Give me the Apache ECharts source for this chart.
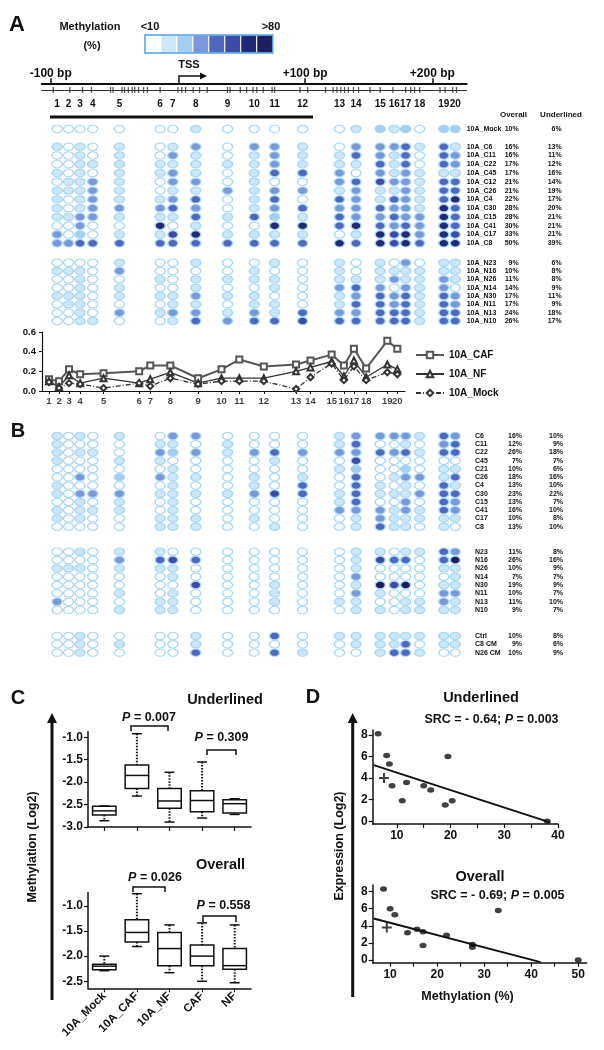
<!DOCTYPE html>
<html>
<head>
<meta charset="utf-8">
<title>Methylation figure</title>
<script src="https://cdn.jsdelivr.net/npm/echarts@6/dist/echarts.min.js"></script>
<style>
html, body { margin: 0; padding: 0; background: #fff; }
#chart { width: 604px; height: 1050px; }
</style>
</head>
<body>
<div id="chart"></div>
<script>
// fonts
var SANS = '"Liberation Sans", Arial, sans-serif';
var NARROW = '"Liberation Sans Narrow", "Liberation Sans", Arial, sans-serif';

// ---- data ----
// CpG columns 1..20, position relative to TSS (bp)
var colBp = [-95, -86, -77, -67, -46, -14, -4, 14, 39, 60, 76, 98, 127, 140, 159, 170, 179, 190, 209, 218];
var cpgSitesBp = [-98, -85, -75, -68, -53, -51, -44, -42, -39, -36, -34, -31, -27, -24, -14, 0, 3, 6, 12, 17, 23,
  39, 41, 49, 54, 59, 62, 67, 74, 76, 96, 102, 116, 122, 125, 128, 131, 134, 138, 142, 151, 159, 169, 179, 183,
  186, 190, 206, 210, 216, 219];
var genomeTicksBp = [-100, 100, 200];

// methylation level per CpG (0 = <10% ... 7 = >80%), one string per clone
var aMockNames = ['10A_Mock'];
var aMockOverall = ['10%'];
var aMockUnder = ['6%'];
var aMockRows = ['00000001000001212022'];

var aCafNames = ['10A_C6', '10A_C11', '10A_C22', '10A_C45', '10A_C12', '10A_C26', '10A_C4', '10A_C30', '10A_C15', '10A_C41', '10A_C17', '10A_C8'];
var aCafOverall = ['16%', '16%', '17%', '17%', '21%', '21%', '22%', '28%', '28%', '30%', '33%', '50%'];
var aCafUnder = ['13%', '11%', '12%', '16%', '14%', '19%', '17%', '20%', '21%', '21%', '21%', '39%'];
var aCafRows = [
  '10101013033103334141', '00101031013114314043', '00111111113111414043', '10101131014430313111',
  '01131033010034533144', '11131011313313113144', '10131134014043143146', '10133343013433433164',
  '11331114142143343364', '00300601006646434364', '30201156111101656365', '33444444444464656466'
];

var aNfNames = ['10A_N23', '10A_N16', '10A_N26', '10A_N14', '10A_N30', '10A_N11', '10A_N13', '10A_N10'];
var aNfOverall = ['9%', '10%', '11%', '14%', '17%', '17%', '24%', '26%'];
var aNfUnder = ['6%', '8%', '8%', '9%', '11%', '9%', '18%', '17%'];
var aNfRows = [
  '00001001001010103011', '11103000010010111111', '00100101111011131131', '00101001001034303130',
  '11101113110013434143', '01100011011014434143', '00103133131433444144', '00110014344544444144'
];

var bCafNames = ['C6', 'C11', 'C22', 'C45', 'C21', 'C26', 'C4', 'C30', 'C15', 'C41', 'C17', 'C8'];
var bCafOverall = ['16%', '12%', '26%', '7%', '10%', '18%', '13%', '23%', '13%', '16%', '10%', '13%'];
var bCafUnder = ['10%', '9%', '18%', '7%', '6%', '16%', '10%', '22%', '7%', '10%', '8%', '10%'];
var bCafRows = [
  '10101033000013333143', '10000110100014001034', '10110323134333434144', '10001100001005000000',
  '00000010000012002011', '00302311010104013314', '10000010010404101041', '10333111135414111344',
  '00101010000014003043', '10111010000033313143', '10100111010001311111', '00000111001001411010'
];

var bNfNames = ['N23', 'N16', 'N26', 'N14', 'N30', 'N11', 'N13', 'N10'];
var bNfOverall = ['11%', '26%', '10%', '7%', '19%', '10%', '11%', '9%'];
var bNfUnder = ['8%', '16%', '9%', '7%', '9%', '7%', '10%', '7%'];
var bNfRows = [
  '00101100000001101143', '00003454000001544047', '11101110000001000011', '00000010000003000001',
  '00000005001001757011', '00001010001003100033', '30000110001011001131', '00001110000001101111'
];

var bCtrlNames = ['Ctrl', 'C8 CM', 'N26 CM'];
var bCtrlOverall = ['10%', '9%', '10%'];
var bCtrlUnder = ['8%', '6%', '9%'];
var bCtrlRows = ['00100001004011111111', '00101001000001114011', '00100004004100144100'];

// mean methylation per CpG
var cafLine = [0.12, 0.10, 0.22, 0.17, 0.18, 0.20, 0.26, 0.26, 0.13, 0.22, 0.32, 0.25, 0.27, 0.31, 0.37, 0.26, 0.43, 0.23, 0.51, 0.43];
var nfLine = [0.10, 0.04, 0.16, 0.08, 0.13, 0.08, 0.12, 0.19, 0.08, 0.13, 0.13, 0.13, 0.20, 0.24, 0.30, 0.15, 0.31, 0.14, 0.27, 0.22];
var mockLine = [0.09, 0.03, 0.08, 0.07, 0.03, 0.08, 0.05, 0.13, 0.07, 0.10, 0.10, 0.10, 0.02, 0.14, 0.28, 0.11, 0.25, 0.11, 0.19, 0.17];

// box plots: [min, q1, median, q3, max]
var boxCats = ['10A_Mock', '10A_CAF', '10A_NF', 'CAF', 'NF'];
var underlinedBox = [
  [-2.86, -2.73, -2.64, -2.54, -2.53],
  [-2.31, -2.14, -1.85, -1.62, -0.92],
  [-2.89, -2.58, -2.42, -2.14, -1.78],
  [-2.80, -2.66, -2.41, -2.19, -1.55],
  [-2.72, -2.69, -2.48, -2.39, -2.37]
];
var overallBox = [
  [-2.29, -2.27, -2.20, -2.16, -2.00],
  [-1.81, -1.72, -1.53, -1.28, -0.76],
  [-2.33, -2.19, -1.85, -1.53, -1.38],
  [-2.50, -2.19, -2.00, -1.78, -1.34],
  [-2.53, -2.26, -2.19, -1.85, -1.38]
];

// expression vs methylation
var underlinedPts = [[6.5, 8.1], [8.1, 6.1], [8.6, 5.3], [9.1, 3.3], [11.8, 3.6], [11.0, 1.9], [15.0, 3.3],
  [16.3, 2.9], [19.0, 1.5], [19.5, 6.0], [20.3, 1.9], [38.0, 0.0]];
var underlinedCross = [[7.6, 4.0]];
var underlinedFit = [[5.7, 5.2], [38.5, -0.1]];
var overallPts = [[8.6, 8.3], [10.0, 6.0], [11.0, 5.3], [13.7, 3.2], [15.7, 3.6], [17.0, 3.3], [17.0, 1.7],
  [22.0, 2.9], [27.5, 1.8], [27.5, 1.5], [33.0, 5.8], [50.0, 0.0]];
var overallCross = [[9.3, 3.8]];
var overallFit = [[6.5, 4.85], [42.0, -0.25]];

// ---- styles ----
var levelColors = ['#ffffff', '#cbe7f9', '#a4cff0', '#7898d8', '#4e67bf', '#3a4ca8', '#222a78', '#1b1f5e'];

var grids = [], xAxes = [], yAxes = [], series = [];

function addGrid(g, x, y) {
  g.outerBoundsMode = 'none';
  grids.push(g);
  var i = grids.length - 1;
  x.gridIndex = i; y.gridIndex = i;
  [x, y].forEach(function (a) {
    a.axisLine = a.axisLine || {};
    a.axisLine.onZero = false;
    a.axisLabel = a.axisLabel || {};
    a.axisLabel.showMinLabel = true;
    a.axisLabel.showMaxLabel = true;
    a.axisLabel.hideOverlap = false;
  });
  xAxes.push(x); yAxes.push(y);
  return i;
}

function hiddenValue(min, max) {
  return { type: 'value', min: min, max: max, show: false, splitLine: { show: false } };
}

function nearestCol(v) {
  var best = 0;
  colBp.forEach(function (c, i) { if (Math.abs(c - v) < Math.abs(colBp[best] - v)) best = i; });
  return best + 1;
}

// heatmap block of open/filled circles
function circleBlock(top, height, names, overall, under, rows, margin, nameW, pctW, underW) {
  var g = addGrid({ left: 41.7, width: 425, top: top, height: height },
    hiddenValue(-107.1, 227),
    {
      type: 'category', data: names, inverse: true, position: 'right',
      axisLine: { show: false }, axisTick: { show: false }, splitLine: { show: false },
      axisLabel: {
        interval: 0, margin: margin, color: '#111', fontSize: 7, fontWeight: 'bold', fontFamily: NARROW,
        formatter: function (v, i) { return '{n|' + v + '}{o|' + overall[i] + '}{u|' + under[i] + '}'; },
        rich: {
          n: { width: nameW, align: 'left' },
          o: { width: pctW, align: 'right' },
          u: { width: underW, align: 'right' }
        }
      }
    });
  var data = [];
  rows.forEach(function (row, r) {
    for (var c = 0; c < row.length; c++) data.push([colBp[c], r, +row[c]]);
  });
  series.push({
    type: 'scatter', xAxisIndex: g, yAxisIndex: g, silent: true, data: data,
    symbol: 'circle', symbolSize: [10, 7.4],
    itemStyle: {
      color: function (p) { return levelColors[p.value[2]]; },
      borderColor: '#a6d6f4', borderWidth: 1.2, opacity: 1
    }
  });
}

// ---- panel A: genome map ----
addGrid({ left: 41.7, width: 425, top: 60, height: 23.3 },
  {
    type: 'value', min: -107.1, max: 227, splitLine: { show: false },
    axisLine: { show: true, lineStyle: { color: '#111', width: 2 } },
    axisTick: { show: true, inside: true, length: 5, customValues: genomeTicksBp, lineStyle: { color: '#111', width: 1.5 } },
    axisLabel: {
      show: true, inside: true, margin: 4, customValues: genomeTicksBp, color: '#111',
      fontSize: 12, fontWeight: 'bold', fontFamily: SANS,
      formatter: function (v) { return (v > 0 ? '+' : '') + v + ' bp'; }
    }
  },
  hiddenValue(0, 1));

var cpgGrid = addGrid({ left: 41.7, width: 425, top: 84, height: 6 },
  {
    type: 'value', min: -107.1, max: 227, splitLine: { show: false },
    axisLine: { show: true, lineStyle: { color: '#333', width: 1 } },
    axisTick: { show: false },
    axisLabel: {
      show: true, margin: 9, customValues: colBp, color: '#111',
      fontSize: 10, fontWeight: 'bold', fontFamily: NARROW,
      formatter: function (v) { return nearestCol(v); }
    }
  },
  hiddenValue(-1, 1));
series.push({
  type: 'scatter', xAxisIndex: cpgGrid, yAxisIndex: cpgGrid, silent: true,
  data: cpgSitesBp.map(function (b) { return [b, -1]; }),
  symbol: 'rect', symbolSize: [1.3, 6], itemStyle: { color: '#333' }
});

circleBlock(125, 8, aMockNames, aMockOverall, aMockUnder, aMockRows, 0, 32, 20, 43);
circleBlock(142.3, 105.4, aCafNames, aCafOverall, aCafUnder, aCafRows, 0, 32, 20, 43);
circleBlock(258.5, 66.7, aNfNames, aNfOverall, aNfUnder, aNfRows, 0, 32, 20, 43);

// ---- panel A: mean methylation line chart ----
var lineGrid = addGrid({ left: 42, width: 363, top: 332, height: 59 },
  {
    type: 'value', min: -101.3, max: 224.9, splitLine: { show: false },
    axisLine: { show: true, lineStyle: { color: '#111', width: 1.2 } },
    axisTick: { show: true, length: 3, customValues: colBp, lineStyle: { color: '#111' } },
    axisLabel: { show: false }
  },
  {
    type: 'value', min: 0, max: 0.6, interval: 0.2, splitLine: { show: false },
    axisLine: { show: true, lineStyle: { color: '#111', width: 1.2 } },
    axisTick: { show: true, length: 3, lineStyle: { color: '#111' } },
    axisLabel: {
      margin: 6, color: '#111', fontSize: 9.5, fontWeight: 'bold', fontFamily: NARROW,
      formatter: function (v) { return v.toFixed(1); }
    }
  });
// CpG numbers under the line chart (series labels, so none get hidden)
series.push({
  type: 'scatter', xAxisIndex: lineGrid, yAxisIndex: lineGrid, silent: true, clip: false,
  data: colBp.map(function (b, i) { return [b, 0, i + 1]; }),
  symbolSize: 0,
  label: {
    show: true, position: 'bottom', distance: 5, color: '#111',
    fontSize: 9.5, fontWeight: 'bold', fontFamily: NARROW,
    formatter: function (p) { return p.value[2]; }
  },
  labelLayout: { hideOverlap: false }
});

function meanLine(name, vals, symbol, width, type, color) {
  series.push({
    name: name, type: 'line', xAxisIndex: lineGrid, yAxisIndex: lineGrid, silent: true,
    data: colBp.map(function (b, i) { return [b, vals[i]]; }),
    symbol: symbol, symbolSize: 6,
    lineStyle: { color: color, width: width, type: type },
    itemStyle: { color: color, borderColor: '#222', borderWidth: 1 }
  });
}
meanLine('10A_CAF', cafLine, 'emptyRect', 2, 'solid', '#555');
meanLine('10A_NF', nfLine, 'emptyTriangle', 1.3, 'solid', '#333');
meanLine('10A_Mock', mockLine, 'emptyDiamond', 1.3, [5, 2, 1, 2], '#333');

// ---- panel B ----
circleBlock(431.9, 98.9, bCafNames, bCafOverall, bCafUnder, bCafRows, 8.3, 27, 20, 41);
circleBlock(547.5, 66.7, bNfNames, bNfOverall, bNfUnder, bNfRows, 8.3, 27, 20, 41);
circleBlock(631.8, 25, bCtrlNames, bCtrlOverall, bCtrlUnder, bCtrlRows, 8.3, 27, 20, 41);

// ---- panel C: box plots ----
function boxGrid(top, height, min, max, ticks, showLabels) {
  return addGrid({ left: 88, width: 163, top: top, height: height },
    {
      type: 'category', data: boxCats, boundaryGap: true,
      axisLine: { show: true, lineStyle: { color: '#111', width: 1.5 } },
      axisTick: { show: true, alignWithLabel: true, length: 4, lineStyle: { color: '#111', width: 1.2 } },
      axisLabel: {
        show: showLabels, interval: 0, rotate: 45, margin: 6, color: '#111',
        fontSize: 11.5, fontWeight: 'bold', fontFamily: SANS
      }
    },
    {
      type: 'value', min: min, max: max, splitLine: { show: false },
      axisLine: { show: true, lineStyle: { color: '#111', width: 1.5 } },
      axisTick: { show: true, length: 4, customValues: ticks, lineStyle: { color: '#111', width: 1.2 } },
      axisLabel: {
        margin: 5, customValues: ticks, color: '#111', fontSize: 12, fontWeight: 'bold', fontFamily: SANS,
        formatter: function (v) { return v.toFixed(1); }
      }
    });
}

function boxSeries(g, boxes) {
  series.push({
    type: 'custom', xAxisIndex: g, yAxisIndex: g, silent: true,
    data: boxes.map(function (b, i) { return [i].concat(b); }),
    renderItem: function (params, api) {
      var i = api.value(0);
      var pMin = api.coord([i, api.value(1)]);
      var pQ1 = api.coord([i, api.value(2)]);
      var pMed = api.coord([i, api.value(3)]);
      var pQ3 = api.coord([i, api.value(4)]);
      var pMax = api.coord([i, api.value(5)]);
      var w = api.size([1, 0])[0] * 0.72;
      var x = pMed[0], cap = 5;
      var dotted = { stroke: '#111', lineWidth: 2, lineDash: [1.5, 1.5] };
      var solid = { stroke: '#111', lineWidth: 1.5 };
      return {
        type: 'group', children: [
          { type: 'line', shape: { x1: x, y1: pMax[1], x2: x, y2: pQ3[1] }, style: dotted },
          { type: 'line', shape: { x1: x, y1: pQ1[1], x2: x, y2: pMin[1] }, style: dotted },
          { type: 'line', shape: { x1: x - cap, y1: pMax[1], x2: x + cap, y2: pMax[1] }, style: solid },
          { type: 'line', shape: { x1: x - cap, y1: pMin[1], x2: x + cap, y2: pMin[1] }, style: solid },
          { type: 'rect', shape: { x: x - w / 2, y: pQ3[1], width: w, height: pQ1[1] - pQ3[1] },
            style: { fill: '#fff', stroke: '#111', lineWidth: 1.5 } },
          { type: 'line', shape: { x1: x - w / 2, y1: pMed[1], x2: x + w / 2, y2: pMed[1] }, style: solid }
        ]
      };
    }
  });
}

var cUp = boxGrid(731.7, 95.3, -3.0, -0.875, [-3, -2.5, -2, -1.5, -1], false);
boxSeries(cUp, underlinedBox);
var cLow = boxGrid(892.7, 95.6, -2.64, -0.74, [-2.5, -2, -1.5, -1], true);
boxSeries(cLow, overallBox);

// ---- panel D: scatter with fit ----
function scatterGrid(left, width, top, height, xmin, xmax, xLabels, xTicks, ymin, ymax) {
  return addGrid({ left: left, width: width, top: top, height: height },
    {
      type: 'value', min: xmin, max: xmax, splitLine: { show: false },
      axisLine: { show: true, lineStyle: { color: '#111', width: 1.5 } },
      axisTick: { show: true, length: 4, customValues: xTicks, lineStyle: { color: '#111', width: 1.2 } },
      axisLabel: { margin: 6, customValues: xLabels, color: '#111', fontSize: 12, fontWeight: 'bold', fontFamily: SANS }
    },
    {
      type: 'value', min: ymin, max: ymax, splitLine: { show: false },
      axisLine: { show: true, lineStyle: { color: '#111', width: 1.5 } },
      axisTick: { show: true, length: 4, customValues: [0, 2, 4, 6, 8], lineStyle: { color: '#111', width: 1.2 } },
      axisLabel: { margin: 5, customValues: [0, 2, 4, 6, 8], color: '#111', fontSize: 12, fontWeight: 'bold', fontFamily: SANS }
    });
}

var crossPath = 'path://M4,0H6V4H10V6H6V10H4V6H0V4H4Z';
function scatterSeries(g, pts, cross, fit) {
  series.push({
    type: 'line', xAxisIndex: g, yAxisIndex: g, silent: true, data: fit,
    showSymbol: false, symbol: 'none', lineStyle: { color: '#111', width: 2 }
  });
  series.push({
    type: 'scatter', xAxisIndex: g, yAxisIndex: g, silent: true, data: pts,
    symbol: 'circle', symbolSize: [7, 5.5], itemStyle: { color: '#111' }
  });
  series.push({
    type: 'scatter', xAxisIndex: g, yAxisIndex: g, silent: true, data: cross,
    symbol: crossPath, symbolSize: 10, itemStyle: { color: '#111' }
  });
}

var dUp = scatterGrid(372.7, 185.3, 730, 94, 5.5, 40, [10, 20, 30, 40], [10, 15, 20, 25, 30, 35, 40], -0.25, 8.45);
scatterSeries(dUp, underlinedPts, underlinedCross, underlinedFit);
var dLow = scatterGrid(372.7, 214, 885, 77.7, 6.3, 51.8, [10, 20, 30, 40, 50], [10, 15, 20, 25, 30, 35, 40, 45, 50], -0.32, 8.78);
scatterSeries(dLow, overallPts, overallCross, overallFit);

// ---- annotations ----
function txt(x, y, s, size, rotation) {
  var el = {
    type: 'text', x: x, y: y, silent: true,
    style: {
      text: s, fontSize: size, fontWeight: 'bold', fontFamily: SANS, fill: '#111',
      align: 'center', verticalAlign: 'middle',
      rich: { i: { fontStyle: 'italic', fontSize: size, fontWeight: 'bold', fontFamily: SANS } }
    }
  };
  if (rotation) el.rotation = rotation;
  return el;
}
function bracket(x1, x2, y, drop) {
  return {
    type: 'polyline', silent: true,
    shape: { points: [[x1, y + drop], [x1, y], [x2, y], [x2, y + drop]] },
    style: { stroke: '#111', lineWidth: 1.5, fill: null }
  };
}
function upArrow(x, yBottom, yTop) {
  return [
    { type: 'line', silent: true, shape: { x1: x, y1: yBottom, x2: x, y2: yTop + 8 }, style: { stroke: '#111', lineWidth: 3 } },
    { type: 'polygon', silent: true, shape: { points: [[x - 5, yTop + 10], [x + 5, yTop + 10], [x, yTop]] }, style: { fill: '#111' } }
  ];
}

var graphic = [
  txt(17, 25, 'A', 22),
  txt(18, 431, 'B', 20),
  txt(18, 698, 'C', 20),
  txt(313, 697.5, 'D', 20),
  txt(90, 27, 'Methylation', 11),
  txt(92, 46, '(%)', 11),
  txt(150, 27, '<10', 11),
  txt(271, 27, '>80', 11),
  txt(189, 65, 'TSS', 11),
  // TSS arrow
  { type: 'polyline', silent: true, shape: { points: [[179, 83], [179, 76], [201, 76]] }, style: { stroke: '#111', lineWidth: 1.5, fill: null } },
  { type: 'polygon', silent: true, shape: { points: [[200, 72.5], [200, 79.5], [207, 76]] }, style: { fill: '#111' } },
  // underlined region bar
  { type: 'rect', silent: true, shape: { x: 50, y: 115.5, width: 263, height: 3 }, style: { fill: '#111' } },
  txt(513.5, 115, 'Overall', 8),
  txt(561, 115, 'Underlined', 8),
  txt(225, 700, 'Underlined', 14.5),
  txt(149, 718, '{i|P} = 0.007', 12.5),
  txt(221.5, 738, '{i|P} = 0.309', 12.5),
  bracket(131, 168, 726, 5),
  bracket(207, 236, 750, 5),
  txt(220.5, 865, 'Overall', 14.5),
  txt(155, 878, '{i|P} = 0.026', 12.5),
  txt(223.5, 906, '{i|P} = 0.558', 12.5),
  bracket(133, 165, 887, 5),
  bracket(203, 236, 916, 6),
  txt(33, 847, 'Methylation (Log2)', 12.5, Math.PI / 2),
  txt(481, 698, 'Underlined', 14.5),
  txt(491.5, 720, 'SRC = - 0.64; {i|P} = 0.003', 12.5),
  txt(480, 877, 'Overall', 14.5),
  txt(497.5, 896, 'SRC = - 0.69; {i|P} = 0.005', 12.5),
  txt(340, 846, 'Expression (Log2)', 12.5, Math.PI / 2),
  txt(467.5, 997, 'Methylation (%)', 12.5)
].concat(upArrow(52, 1000, 713), upArrow(352.7, 997, 713));

// colour key
var keyX = 145, keyW = 127.7 / levelColors.length;
levelColors.forEach(function (c, i) {
  graphic.push({ type: 'rect', silent: true, shape: { x: keyX + i * keyW, y: 35, width: keyW, height: 18 },
    style: { fill: c, stroke: '#fff', lineWidth: 1 } });
});
graphic.push({ type: 'rect', silent: true, shape: { x: keyX, y: 35, width: 127.7, height: 18 },
  style: { fill: null, stroke: '#4fa3e6', lineWidth: 1.5 } });

var chart = echarts.init(document.getElementById('chart'), null, { renderer: 'canvas' });
chart.setOption({
  animation: false,
  backgroundColor: '#fff',
  grid: grids,
  xAxis: xAxes,
  yAxis: yAxes,
  legend: {
    data: ['10A_CAF', '10A_NF', '10A_Mock'],
    orient: 'vertical', left: 410, top: 345, itemWidth: 28, itemHeight: 8, itemGap: 9,
    selectedMode: false,
    textStyle: { color: '#111', fontSize: 10, fontWeight: 'bold', fontFamily: NARROW }
  },
  series: series,
  graphic: graphic
});
</script>
</body>
</html>
